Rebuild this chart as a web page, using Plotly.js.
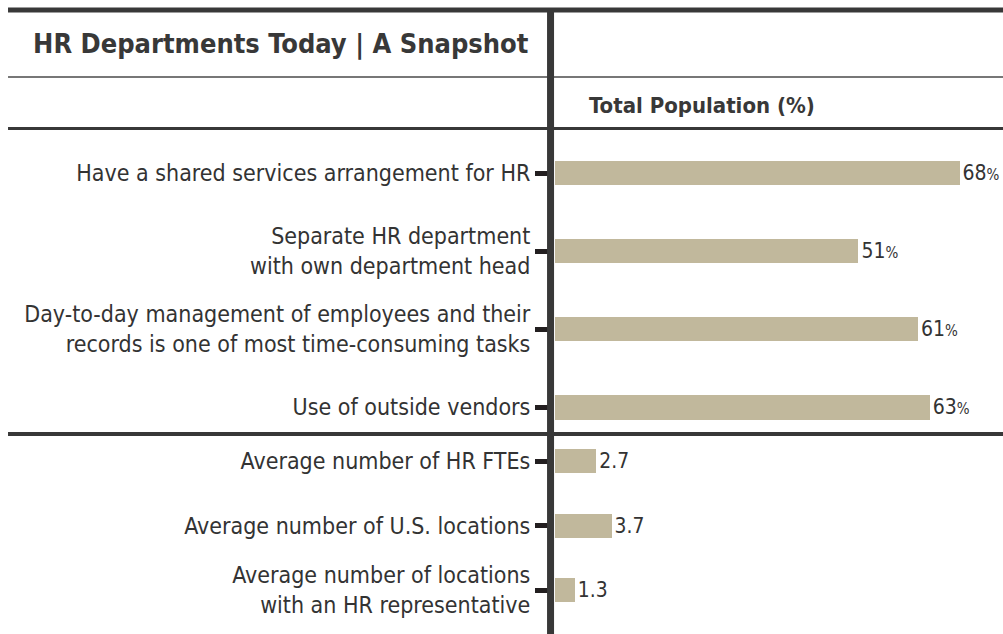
<!DOCTYPE html>
<html>
<head>
<meta charset="utf-8">
<script src="https://cdn.plot.ly/plotly-3.0.1.min.js"></script>
<style>html,body{margin:0;padding:0;background:#fff;}#chart{width:1003px;height:634px;}</style>
</head>
<body>
<div id="chart"></div>
<script>
// ---- data ----
var chartTitle = "HR Departments Today | A Snapshot";
var columnHeader = "Total Population (%)";
var pctCategories = [
  "Have a shared services arrangement for HR",
  "Separate HR department<br>with own department head",
  "Day-to-day management of employees and their<br>records is one of most time-consuming tasks",
  "Use of outside vendors"
];
var pctValues = [68, 51, 61, 63];
var avgCategories = [
  "Average number of HR FTEs",
  "Average number of U.S. locations",
  "Average number of locations<br>with an HR representative"
];
var avgValues = [2.7, 3.7, 1.3];

// ---- style ----
var FONT = "'Liberation Sans Narrow', 'Arial Narrow', 'DejaVu Sans Condensed', sans-serif";
var TXT = "#333333";
var BAR = "#c1b89c";
var DARK = "#383838";

var pctText = pctValues.map(function(v){ return v + "<span style='font-size:15px'>%</span>"; });
var avgText = avgValues.map(function(v){ return v.toFixed(1); });

var traces = [
  {
    type: "bar", orientation: "h",
    x: pctValues, y: pctCategories,
    xaxis: "x", yaxis: "y",
    marker: {color: BAR},
    width: 0.31,
    text: pctText, textposition: "outside", cliponaxis: false,
    textfont: {family: FONT, size: 21, color: TXT},
    hoverinfo: "skip"
  },
  {
    type: "bar", orientation: "h",
    x: avgValues, y: avgCategories,
    xaxis: "x2", yaxis: "y2",
    marker: {color: BAR},
    width: 0.37,
    text: avgText, textposition: "outside", cliponaxis: false,
    textfont: {family: FONT, size: 21, color: TXT},
    hoverinfo: "skip"
  }
];

var yCommon = {
  type: "category",
  showgrid: false, zeroline: false, showline: false,
  ticks: "outside", ticklen: 19, tickwidth: 5, tickcolor: "#231f20",
  ticklabelstandoff: 0,
  tickfont: {family: FONT, size: 23, color: TXT}
};

var layout = {
  width: 1003, height: 634,
  margin: {l: 0, r: 0, t: 0, b: 0},
  paper_bgcolor: "#ffffff", plot_bgcolor: "#ffffff",
  showlegend: false,
  bargap: 0,
  title: {
    text: "<b>" + chartTitle + "</b>",
    x: 0.033, xanchor: "left", xref: "paper",
    y: 0.932, yanchor: "middle", yref: "container",
    font: {family: FONT, size: 27, color: DARK}
  },
  xaxis: {domain: [0.5533, 1], range: [0, 75.3], visible: false, fixedrange: true},
  yaxis: Object.assign({}, yCommon, {domain: [0.3155, 0.7886], range: [3.34, -0.5], anchor: "x"}),
  xaxis2: {domain: [0.5533, 1], range: [0, 29.3], visible: false, anchor: "y2", fixedrange: true},
  yaxis2: Object.assign({}, yCommon, {domain: [0, 0.3123], range: [2.68, -0.39], anchor: "x2"}),
  annotations: [
    {
      text: "<b>" + columnHeader + "</b>",
      xref: "paper", yref: "paper", x: 0.585, y: 0.833,
      xanchor: "left", yanchor: "middle", showarrow: false,
      font: {family: FONT, size: 22, color: DARK}
    }
  ],
  shapes: [
    {type: "line", xref: "paper", yref: "paper", x0: 0.008, x1: 1, y0: 0.9842, y1: 0.9842, line: {color: DARK, width: 5}, layer: "above"},
    {type: "line", xref: "paper", yref: "paper", x0: 0.008, x1: 1, y0: 0.8785, y1: 0.8785, line: {color: "#777777", width: 2}, layer: "above"},
    {type: "line", xref: "paper", yref: "paper", x0: 0.008, x1: 1, y0: 0.7973, y1: 0.7973, line: {color: DARK, width: 3}, layer: "above"},
    {type: "line", xref: "paper", yref: "paper", x0: 0.008, x1: 1, y0: 0.3155, y1: 0.3155, line: {color: DARK, width: 4}, layer: "above"},
    {type: "line", xref: "paper", yref: "paper", x0: 0.5489, x1: 0.5489, y0: 0, y1: 0.984, line: {color: DARK, width: 7}, layer: "above"}
  ]
};

Plotly.newPlot("chart", traces, layout, {staticPlot: true, displayModeBar: false});
</script>
</body>
</html>
